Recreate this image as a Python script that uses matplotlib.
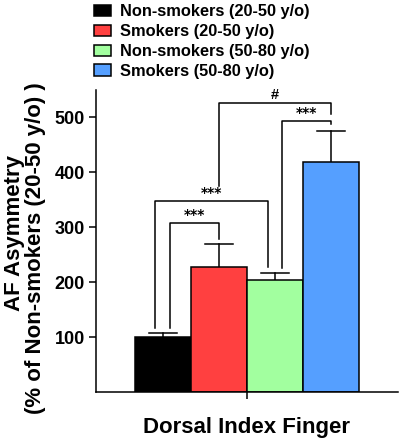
import matplotlib
matplotlib.use('Agg')
import matplotlib.pyplot as plt
from matplotlib.patches import Patch

plt.rcParams['font.family'] = ['Liberation Sans', 'DejaVu Sans']
plt.rcParams['font.weight'] = 'bold'

# data
groups = ['Non-smokers (20-50 y/o)', 'Smokers (20-50 y/o)',
          'Non-smokers (50-80 y/o)', 'Smokers (50-80 y/o)']
means = [100, 227, 204, 419]
sems = [7, 42, 12, 57]
colors = ['#000000', '#FF4040', '#A2FF9F', '#559FFF']
yticks = [100, 200, 300, 400, 500]

# significance brackets: (x left, x right, y left bottom, y right bottom, y top, label)
brackets = [
    (-1.37, -0.5, 116, 278, 308, '***'),
    (-1.64, 0.37, 116, 228, 348, '***'),
    (0.63, 1.5, 225, 488, 493, '***'),
    (-0.5, 1.5, 376, 507, 526, '#'),
]

fig = plt.figure(figsize=(4.02, 4.4), dpi=100)
ax = fig.add_axes([96/402, 48/440, 302/402, 302/440])

xpos = [-1.5, -0.5, 0.5, 1.5]
ax.bar(xpos, means, width=1.0, color=colors, edgecolor='black', linewidth=1.1, zorder=2)
for x, m, s in zip(xpos, means, sems):
    ax.plot([x, x], [m, m + s], color='black', lw=1.1, zorder=1)
    ax.plot([x - 0.25, x + 0.25], [m + s, m + s], color='black', lw=1.1, zorder=1)

for xl, xr, yl, yr, yt, lab in brackets:
    ax.plot([xl, xl, xr, xr], [yl, yt, yt, yr], color='black', lw=1.1)
    if lab == '#':
        ax.text((xl + xr) / 2, yt + 3, lab, ha='center', va='bottom', fontsize=10.5,
                fontweight='bold')
    else:
        ax.text((xl + xr) / 2, yt + 2, lab, ha='center', va='bottom', fontsize=10,
                fontweight='bold', family='DejaVu Sans')

ax.set_xlim(-2.69, 2.69)
ax.set_ylim(0, 550)
ax.set_yticks(yticks)
ax.set_xticks([0])
ax.set_xticklabels([''])
ax.tick_params(axis='both', width=1.1, length=5, labelsize=13, pad=3)
for lbl in ax.get_yticklabels():
    lbl.set_fontweight('bold')
ax.spines['top'].set_visible(False)
ax.spines['right'].set_visible(False)
ax.spines['left'].set_linewidth(1.1)
ax.spines['bottom'].set_linewidth(1.1)

# two-line y label, each line placed on its own
fig.text(20.5/402, 1 - 233/440, 'AF Asymmetry', rotation=90, rotation_mode='anchor',
         ha='center', va='baseline', fontsize=16, fontweight='bold')
fig.text(41.5/402, 1 - 248/440, '(% of Non-smokers (20-50 y/o) )', rotation=90,
         rotation_mode='anchor', ha='center', va='baseline', fontsize=16,
         fontweight='bold')
ax.set_xlabel('Dorsal Index Finger', fontsize=16, fontweight='bold', labelpad=10)

handles = [Patch(facecolor=c, edgecolor='black', linewidth=1.1) for c in colors]
fig.legend(handles, groups, loc='upper left', bbox_to_anchor=(94/402, 1 - 4/440),
           bbox_transform=fig.transFigure, frameon=False,
           borderaxespad=0, borderpad=0, handlelength=1.06, handleheight=0.66,
           handletextpad=0.55, labelspacing=0.3,
           prop={'weight': 'bold', 'size': 11.8})

plt.savefig('out.png', dpi=100)
